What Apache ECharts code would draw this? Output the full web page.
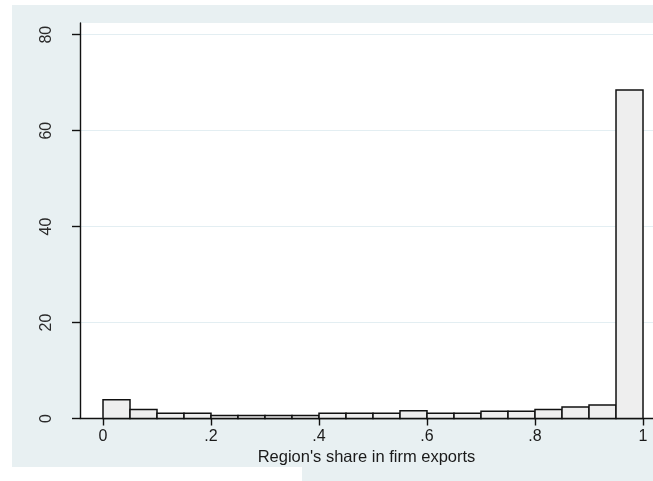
<!DOCTYPE html>
<html>
<head>
<meta charset="utf-8">
<script src="https://cdn.jsdelivr.net/npm/echarts@6/dist/echarts.min.js"></script>
<style>
html,body{margin:0;padding:0;background:#fff;}
#chart{width:653px;height:481px;}
</style>
</head>
<body>
<div id="chart"></div>
<script>
// Histogram bins (region's share in firm exports) and percent of firms
const binStarts = [0.00, 0.05, 0.10, 0.15, 0.20, 0.25, 0.30, 0.35, 0.40, 0.45,
                   0.50, 0.55, 0.60, 0.65, 0.70, 0.75, 0.80, 0.85, 0.90, 0.95];
const binEnds   = [0.05, 0.10, 0.15, 0.20, 0.25, 0.30, 0.35, 0.40, 0.45, 0.50,
                   0.55, 0.60, 0.65, 0.70, 0.75, 0.80, 0.85, 0.90, 0.95, 1.00];
const percents  = [3.9, 1.9, 1.1, 1.1, 0.6, 0.6, 0.6, 0.6, 1.1, 1.1,
                   1.1, 1.6, 1.1, 1.1, 1.5, 1.5, 1.9, 2.4, 2.8, 68.5];
const xTicks = [0, 0.2, 0.4, 0.6, 0.8, 1];
const xTickLabels = ['0', '.2', '.4', '.6', '.8', '1'];
const yTicks = [0, 20, 40, 60, 80];
const yTickLabels = ['0', '20', '40', '60', '80'];
const xTitle = "Region's share in firm exports";

const chart = echarts.init(document.getElementById('chart'), null, {renderer: 'canvas'});
const bg = '#E8F0F2';
const font = '"Liberation Sans", Arial, sans-serif';

const option = {
  backgroundColor: '#ffffff',
  animation: false,
  graphic: [
    {type: 'rect', z: -100, shape: {x: 12, y: 5, width: 641, height: 462}, style: {fill: bg}},
    {type: 'rect', z: -100, shape: {x: 302, y: 466, width: 351, height: 15}, style: {fill: bg}}
  ],
  grid: {
    left: 80, top: 23, right: 0, bottom: 62.5,
    show: true, backgroundColor: '#ffffff', borderWidth: 0
  },
  xAxis: {
    type: 'value',
    min: -0.0426, max: 1.0185,
    name: xTitle,
    nameLocation: 'middle',
    nameGap: 26,
    nameTextStyle: {fontFamily: font, fontSize: 16.5, color: '#1a1a1a'},
    axisLine: {show: true, onZero: false, lineStyle: {color: '#111', width: 1.4}},
    axisTick: {show: true, length: 7, customValues: xTicks, lineStyle: {color: '#111', width: 1.4}},
    axisLabel: {
      customValues: xTicks,
      formatter: v => { const i = xTicks.findIndex(t => Math.abs(t - v) < 1e-9); return i >= 0 ? xTickLabels[i] : ''; },
      fontFamily: font, fontSize: 16, color: '#1a1a1a', margin: 10
    },
    splitLine: {show: false}
  },
  yAxis: {
    type: 'value',
    min: 0, max: 82.44,
    axisLine: {show: true, onZero: false, lineStyle: {color: '#111', width: 1.4}},
    axisTick: {show: true, length: 8, customValues: yTicks, lineStyle: {color: '#111', width: 1.4}},
    axisLabel: {
      customValues: yTicks,
      rotate: 90,
      formatter: v => { const i = yTicks.findIndex(t => Math.abs(t - v) < 1e-9); return i >= 0 ? yTickLabels[i] : ''; },
      fontFamily: font, fontSize: 16, color: '#2a2a2a', margin: 25
    },
    splitLine: {show: true, lineStyle: {color: '#E3EEF2', width: 1.2}}
  },
  series: [{
    type: 'custom',
    data: binStarts.map((s, i) => [s, binEnds[i], percents[i]]),
    encode: {x: [0, 1], y: 2},
    renderItem: function (params, api) {
      const p0 = api.coord([api.value(0), api.value(2)]);
      const p1 = api.coord([api.value(1), 0]);
      return {
        type: 'rect',
        shape: {x: p0[0], y: p0[1], width: p1[0] - p0[0], height: p1[1] - p0[1]},
        style: {fill: '#EEEEEE', stroke: '#111', lineWidth: 1.5}
      };
    }
  }]
};
chart.setOption(option);
</script>
</body>
</html>
